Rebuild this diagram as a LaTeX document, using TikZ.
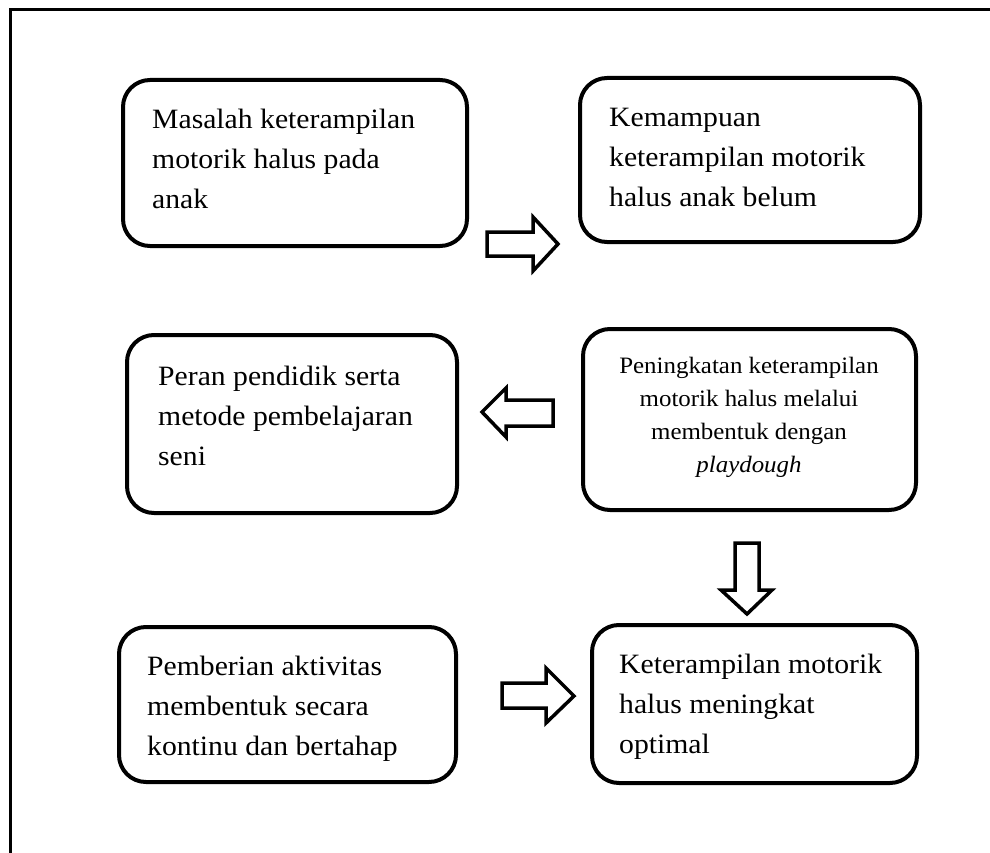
\documentclass[tikz,border=0pt]{standalone}
\usepackage{fontspec}
\setmainfont{Liberation Serif}[FakeStretch=1.06]
\begin{document}
\begin{tikzpicture}[x=1pt,y=-1pt,
  box/.style={draw,line width=4pt,rounded corners=27pt,inner sep=0pt},
  txt/.style={anchor=north west,inner sep=0pt,align=left,font=\fontsize{28}{40}\selectfont},
  smalltxt/.style={anchor=north,inner sep=0pt,align=center,font=\fontsize{23.5}{33}\selectfont},
  blockarrow/.style={draw,line width=3.5pt,fill=white,line join=miter}]
\useasboundingbox (0,0) rectangle (990,853);
\draw[line width=3pt] (10,853) -- (10,10) -- (990,10);
% boxes
\node[box,minimum width=344pt,minimum height=166pt] (b1) at (295,163) {};
\node[box,minimum width=340pt,minimum height=164pt] (b2) at (750,160) {};
\node[box,minimum width=330pt,minimum height=178pt] (b3) at (292,424) {};
\node[box,minimum width=333pt,minimum height=181pt] (b4) at (749.5,419.5) {};
\node[box,minimum width=337pt,minimum height=155pt] (b5) at (287.5,704.5) {};
\node[box,minimum width=325pt,minimum height=158pt] (b6) at (754.5,704) {};
% texts
\node[txt] (t1) at (152,100) {\strut Masalah keterampilan\\motorik halus pada\\anak};
\node[txt] (t2) at (609,98) {\strut Kemampuan\\keterampilan motorik\\halus anak belum};
\node[txt] (t3) at (158,357) {\strut Peran pendidik serta\\metode pembelajaran\\seni};
\node[smalltxt] (t4) at (749,349.9) {\strut Peningkatan keterampilan\\motorik halus melalui\\membentuk dengan\\\textit{playdough}};
\node[txt] (t5) at (147,647) {\strut Pemberian aktivitas\\membentuk secara\\kontinu dan bertahap};
\node[txt] (t6) at (619,645) {\strut Keterampilan motorik\\halus meningkat\\optimal};
% block arrows
\draw[blockarrow] (487,232) -- (533,232) -- (533,217) -- (558,244) -- (533,271) -- (533,256) -- (487,256) -- cycle;
\draw[blockarrow] (553,400) -- (506,400) -- (506,388) -- (482,412) -- (506,437) -- (506,426) -- (553,426) -- cycle;
\draw[blockarrow] (735,543) -- (759,543) -- (759,590) -- (772,590) -- (747,614) -- (721,590) -- (735,590) -- cycle;
\draw[blockarrow] (502,683) -- (546,683) -- (546,668) -- (574,696) -- (546,723) -- (546,708) -- (502,708) -- cycle;
\end{tikzpicture}
\end{document}
